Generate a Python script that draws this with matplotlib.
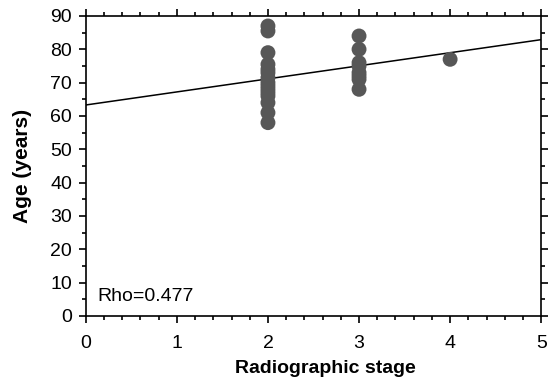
import numpy as np
import matplotlib
matplotlib.use("Agg")
import matplotlib.pyplot as plt
from matplotlib.ticker import MultipleLocator

plt.rcParams['font.family'] = ['Liberation Sans', 'DejaVu Sans']

# radiographic stage vs age
stage = [2, 2, 2, 2, 2, 2, 2, 2, 2, 2, 2, 2, 2, 2, 2,
         3, 3, 3, 3, 3, 3, 3, 3,
         4]
age = [87, 85.5, 79, 75.5, 74, 73, 71.5, 70, 69, 68, 67, 66, 64, 61, 58,
       84, 80, 76, 75, 73, 72, 71, 68,
       77]

# fitted regression line
fit_intercept = 63.3
fit_slope = 3.92
rho_text = "Rho=0.477"

fig = plt.figure(figsize=(5.5, 3.87), dpi=100)
ax = fig.add_axes([0.156, 0.1835, 0.828, 0.7752])

ax.scatter(stage, age, s=115, color='#575757', edgecolors='none', zorder=3)
xs = np.array([0, 5])
ax.plot(xs, fit_intercept + fit_slope * xs, color='black', lw=1.1, zorder=2)

ax.set_xlim(0, 5)
ax.set_ylim(0, 90)
ax.xaxis.set_major_locator(MultipleLocator(1))
ax.xaxis.set_minor_locator(MultipleLocator(0.2))
ax.yaxis.set_major_locator(MultipleLocator(10))
ax.yaxis.set_minor_locator(MultipleLocator(5))
ax.tick_params(which='both', direction='out', top=True, right=True,
               labelsize=14, width=1.2, color='black')
ax.tick_params(which='major', length=5)
ax.tick_params(which='minor', length=3)
ax.tick_params(axis='x', which='major', pad=9)
ax.tick_params(axis='y', which='major', pad=5)
for sp in ax.spines.values():
    sp.set_linewidth(1.2)

ax.set_xlabel("Radiographic stage", fontsize=14, fontweight='bold')
ax.xaxis.set_label_coords(0.527, -0.148)
ax.set_ylabel("Age (years)", fontsize=15, fontweight='bold')
ax.yaxis.set_label_coords(-0.118, 0.5)
ax.text(0.026, 0.05, rho_text, transform=ax.transAxes, fontsize=14)

fig.savefig("out.png", dpi=100)
